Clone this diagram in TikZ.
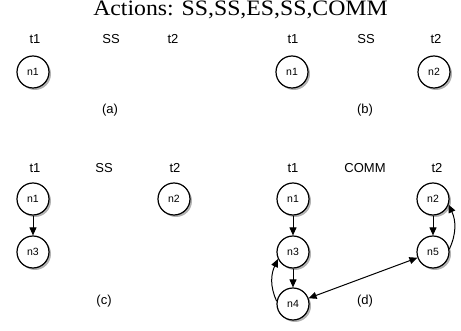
\documentclass[tikz,border=0pt]{standalone}
\usepackage{fontspec}
\setmainfont{Liberation Serif}
\setsansfont{Liberation Sans}
\usetikzlibrary{arrows.meta,shadows}
\tikzset{
  st/.style={circle,draw,line width=1.2pt,fill=white,minimum size=32pt,inner sep=0pt,font=\sffamily\fontsize{10.5}{10.5}\selectfont,
    drop shadow={shadow xshift=2pt,shadow yshift=-2pt,fill=black,opacity=0.3}},
  lbl/.style={anchor=base,font=\sffamily\fontsize{13}{13}\selectfont},
  edge/.style={line width=1pt,-{Triangle[length=8pt,width=7pt]}},
  bedge/.style={line width=1pt,{Triangle[length=8pt,width=7pt]}-{Triangle[length=8pt,width=7pt]}}
}
\begin{document}
\begin{tikzpicture}[x=1pt,y=-1pt]
\useasboundingbox (0,0) rectangle (461,331);
\node[anchor=base,inner sep=0pt,font=\rmfamily\fontsize{22}{22}\selectfont] (title) at (240.5,16) {\scalebox{1.08}[1]{Actions: SS,SS,ES,SS,COMM}};
% (a)
\node[lbl] (at1) at (35,44) {t1};
\node[lbl] (ass) at (111,44) {SS};
\node[lbl] (at2) at (173,44) {t2};
\node[st] (an1) at (33,72) {n1};
\node[lbl] (acap) at (110,114) {(a)};
% (b)
\node[lbl] (bt1) at (293,44) {t1};
\node[lbl] (bss) at (366,44) {SS};
\node[lbl] (bt2) at (436,44) {t2};
\node[st] (bn1) at (292,72) {n1};
\node[st] (bn2) at (434,72) {n2};
\node[lbl] (bcap) at (365,114) {(b)};
% (c)
\node[lbl] (ct1) at (35,173) {t1};
\node[lbl] (css) at (104,173) {SS};
\node[lbl] (ct2) at (175,173) {t2};
\node[st] (cn1) at (33,199) {n1};
\node[st] (cn2) at (174,199) {n2};
\node[st] (cn3) at (33,252) {n3};
\node[lbl] (ccap) at (104,305) {(c)};
\draw[edge] (cn1) -- (cn3);
% (d)
\node[lbl] (dt1) at (293,173) {t1};
\node[lbl] (dcomm) at (365,173) {COMM};
\node[lbl] (dt2) at (437,173) {t2};
\node[st] (dn1) at (293,199) {n1};
\node[st] (dn3) at (293,252) {n3};
\node[st] (dn4) at (293,304) {n4};
\node[st] (dn2) at (433,199) {n2};
\node[st] (dn5) at (433,252) {n5};
\node[lbl] (dcap) at (365,305) {(d)};
\draw[edge] (dn1) -- (dn3);
\draw[edge] (dn3) -- (dn4);
\draw[edge] (dn2) -- (dn5);
\draw[edge] (dn4.170) to[out=115,in=245] (dn3.205);
\draw[edge] (dn5.10) to[out=65,in=-65] (dn2.-20);
\draw[bedge] (dn4) -- (dn5);
\end{tikzpicture}
\end{document}
